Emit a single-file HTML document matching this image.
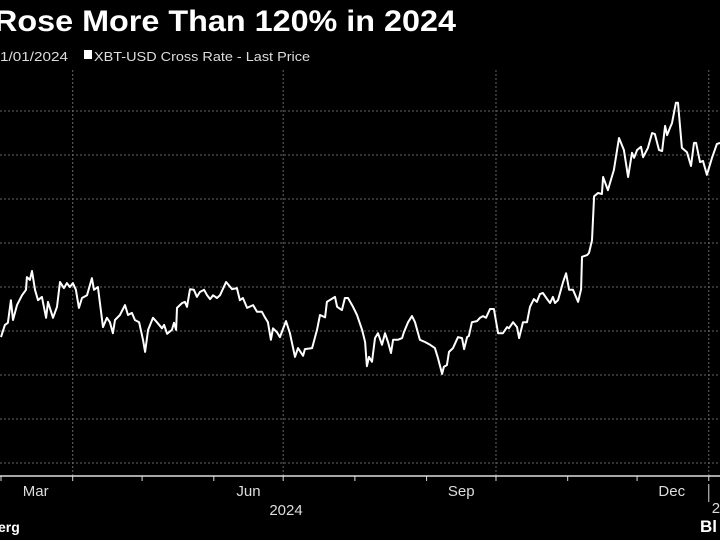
<!DOCTYPE html>
<html><head><meta charset="utf-8"><style>
html,body{margin:0;padding:0;background:#000;width:720px;height:540px;overflow:hidden}
svg{display:block}
text{font-family:"Liberation Sans",sans-serif}
</style></head><body>
<svg id="chart" width="720" height="540" viewBox="0 0 720 540" xmlns="http://www.w3.org/2000/svg">
<rect width="720" height="540" fill="#000"/>
<text x="-6" y="31" fill="#fff" font-size="30" font-weight="bold" textLength="462" lengthAdjust="spacingAndGlyphs">Rose More Than 120% in 2024</text>
<text x="0" y="61" fill="#ddd" font-size="13" textLength="68" lengthAdjust="spacingAndGlyphs">1/01/2024</text>
<rect x="84" y="50" width="8" height="9" fill="#fff"/>
<text x="94" y="61" fill="#ddd" font-size="13" textLength="216" lengthAdjust="spacingAndGlyphs">XBT-USD Cross Rate - Last Price</text>
<g id="grid"></g>
<g id="axis"></g>
<path id="line" fill="none" stroke="#fff" stroke-width="2" stroke-linejoin="round"/>
<text x="-2" y="532" fill="#fff" font-size="14" font-weight="bold">erg</text>
<text x="700" y="532" fill="#fff" font-size="17" font-weight="bold">Bl</text>
</svg>
<script>
// days since 2024-03-01
const days = [0,1.7,3,4.3,5.2,6.9,9.1,10.8,11.2,12.5,13.4,14.7,16,17.7,19.5,20.3,22.5,24.2,25.5,27.2,28.5,29.8,31.1,32.4,33.7,35,37.2,39.3,40.2,41.9,44.1,45.8,47.1,48.4,49.3,51.4,53.6,54.9,56.6,57.9,59.7,61.4,62.3,63.6,65.7,67.4,69.6,70.5,71.8,73.9,74.8,75.7,76.1,78.3,79.5,80.4,81.7,83.4,84.7,86,87.8,89.1,90.4,91.7,93.4,94.7,97.3,99.9,102,103.3,104.6,106.4,109,110.7,112.8,114.1,115.4,116.7,117.6,119.3,120.6,123.2,124.9,127.1,128.4,130.6,131.4,134.5,136.6,137.9,140.1,140.9,144.4,145.3,147.4,148.7,150,152.2,153.9,156.1,157.4,158.2,159.1,160.4,161.7,163,164.7,166,167.3,168.6,169.5,171.6,173.4,174.2,176,177.7,179,181.1,183.3,185.5,187.6,188.9,190.7,191.5,192.8,193.7,195.4,197.6,199.3,200.2,201.5,202.3,203.6,205.8,207.1,208.4,209.7,211.4,213.1,214.9,217,218.8,219.6,221.4,223.1,224,225.7,227.4,228.7,230.4,231.7,233,234.3,236.1,237.4,238.6,239.5,240.8,243,244.3,245.6,247.3,249.5,250.8,251.2,253.4,254.2,255.5,256.4,258.1,259.8,260.3,262.4,263.3,265,267.2,269.3,271.1,272.8,273.7,275,276.7,277.6,279.7,281.5,282.7,284.5,285.8,287.1,288,289.2,290.1,291.8,292.7,294.4,296.6,298.3,299.6,300.5,302.2,303.5,305.2,307.4,309.5,310.9];
// price in thousand USD
const prices = [60.9,63.1,63.5,67.6,64,66.7,68.5,69.5,71.8,71.3,72.9,69.5,67.6,68.2,64.4,67.3,64.4,66.4,70.9,69.8,70.7,70,70.7,69.5,66.2,68,68.5,71.6,69.5,70,62.7,64.4,63.6,61.6,64,64.9,66.7,64.9,65.3,64,63.6,60.4,58.2,62.2,64.4,63.6,62.5,63.1,61.5,62.2,63.5,62.2,66.2,67.1,67.3,66.4,69.6,69.5,68.2,69.1,69.5,68.5,67.8,68.5,68,68.5,70.9,69.6,69.8,67.6,68,66.2,66.7,65.5,65.5,64.5,63.6,60.4,62.5,61.8,60.9,63.8,61.6,57.3,58.9,57.5,58.7,58.9,62.2,64.9,64.5,67.3,68.2,66.4,65.8,68,68,66.4,64.9,62.2,60,55.6,57.3,56.4,60.7,61.6,59.5,61.6,60,58,60.4,60.4,60.7,61.8,63.6,64.7,63.6,60.4,60,59.5,58.9,57.1,54.2,55.5,55.8,58.2,58.9,60.9,60.7,58.7,60.9,61.1,63.6,63.8,64.4,64.7,64.4,66,66,61.6,61.6,62.7,62.5,63.6,62.7,60.7,63.6,63.6,66.4,67.8,67.3,68.7,68.9,67.8,67.1,68.2,67.1,67.6,70.9,72.5,69.5,69.5,67.3,69.6,75.5,75.8,76.2,78.5,86.5,87.1,86.9,90,87.6,88.9,91.3,97.1,94.9,90,94.4,93.5,94.9,95.5,93.6,95.3,98,97.8,94.9,94.7,99.3,97.6,98.9,99.8,103.5,103.5,95.3,94.5,92,96.2,96.2,92.7,92.9,90.4,93.5,96,96.2];
const monthTicks = [0,31,61,92,122,153,184,214,245,275,306];
const quarterGrid = [31,122,214,306];
const monthLabels = ["Mar","Jun","Sep","Dec"];
const monthLabelDays = [15,107,199,290];
const yGridValues = [102,94,86,78,70,62,54,46,38];

const X0 = 1, XK = 2.313, AXIS_Y = 476;
function xs(d){ return X0 + d * XK; }
function ys(v){ return 287 - (v - 70) * 5.5; }
const NS = "http://www.w3.org/2000/svg";
const grid = document.getElementById('grid');
const axis = document.getElementById('axis');
function mk(tag, attrs, parent){ const e = document.createElementNS(NS, tag); for (const k in attrs) e.setAttribute(k, attrs[k]); parent.appendChild(e); return e; }

yGridValues.forEach(v => {
  const l = mk('line', {x1:0, x2:720, y1:ys(v), y2:ys(v), stroke:'#666', 'stroke-width':1, 'stroke-dasharray':'2,2'}, grid);
  
  
});
quarterGrid.forEach(d => {
  const l = mk('line', {x1:xs(d), x2:xs(d), y1:70, y2:AXIS_Y, stroke:'#666', 'stroke-width':1, 'stroke-dasharray':'2,2'}, grid);
  
  
});
const axl = mk('line', {x1:0, x2:720, y1:AXIS_Y, y2:AXIS_Y, stroke:'#ddd', 'stroke-width':1.5}, axis);


monthTicks.forEach(d => {
  const t = mk('line', {x1:xs(d), x2:xs(d), y1:AXIS_Y, y2:AXIS_Y+5, stroke:'#ddd', 'stroke-width':1}, axis);
  
  
});
monthLabels.forEach((m, i) => {
  const t = mk('text', {x:xs(monthLabelDays[i]), y:496, fill:'#ddd', 'font-size':15, 'text-anchor':'middle'}, axis);
  t.textContent = m;
  
  
});
const yr = mk('text', {x:286, y:515, fill:'#ddd', 'font-size':15, 'text-anchor':'middle'}, axis);
yr.textContent = '2024';


const sep = mk('line', {x1:xs(306), x2:xs(306), y1:484, y2:502, stroke:'#ddd', 'stroke-width':1}, axis);


const yr2 = mk('text', {x:xs(306)+3, y:513, fill:'#ddd', 'font-size':15}, axis);
yr2.textContent = '2025';



let dpath = '';
days.forEach((d, i) => { dpath += (i ? 'L' : 'M') + xs(d).toFixed(1) + ',' + ys(prices[i]).toFixed(1); });
document.getElementById('line').setAttribute('d', dpath);
</script>
</body></html>
